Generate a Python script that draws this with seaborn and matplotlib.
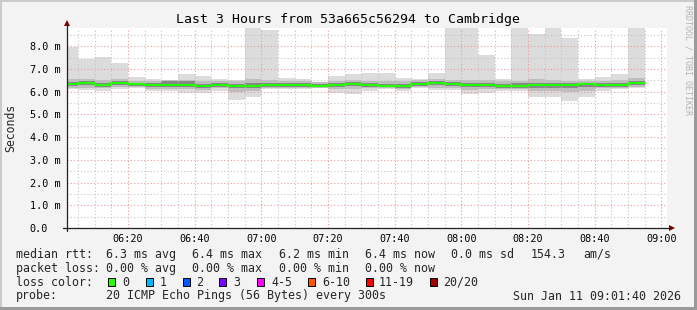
import numpy as np
import pandas as pd
import matplotlib
matplotlib.use("Agg")
import matplotlib.pyplot as plt
import seaborn as sns
from matplotlib.lines import Line2D
from matplotlib.patches import Polygon, Rectangle

# ---------------- data (milliseconds) ----------------
bar_start = pd.date_range("2026-01-11 06:00", "2026-01-11 08:50", freq="5min")
median_ms = [6.33, 6.39, 6.29, 6.39, 6.32, 6.28, 6.28, 6.30, 6.24, 6.28, 6.24, 6.24,
             6.28, 6.29, 6.29, 6.27, 6.30, 6.33, 6.30, 6.26, 6.24, 6.34, 6.39, 6.33,
             6.30, 6.30, 6.26, 6.24, 6.29, 6.29, 6.29, 6.32, 6.29, 6.29, 6.39]
min_ms = [6.12, 6.07, 6.04, 6.12, 6.14, 6.04, 6.04, 5.92, 5.92, 6.04, 5.64, 5.75,
          6.10, 6.10, 6.10, 6.14, 5.95, 5.89, 6.04, 6.10, 6.04, 6.14, 6.07, 6.07,
          5.89, 5.95, 6.04, 6.04, 5.78, 5.78, 5.60, 5.75, 6.04, 6.10, 6.14]
max_ms = [7.95, 7.44, 7.53, 7.27, 6.65, 6.56, 6.52, 6.77, 6.68, 6.55, 6.52, 9.50,
          8.72, 6.58, 6.54, 6.43, 6.68, 6.76, 6.83, 6.83, 6.58, 6.55, 6.83, 9.50,
          9.50, 7.61, 6.55, 9.50, 8.54, 9.50, 8.37, 6.54, 6.63, 6.77, 9.50]
p90_ms = [6.55, 6.55, 6.52, 6.55, 6.48, 6.45, 6.50, 6.50, 6.48, 6.45, 6.45, 6.55,
          6.52, 6.45, 6.45, 6.42, 6.45, 6.50, 6.48, 6.45, 6.45, 6.50, 6.55, 6.52,
          6.52, 6.50, 6.45, 6.48, 6.55, 6.52, 6.48, 6.48, 6.48, 6.52, 6.60]
p10_ms = [6.18, 6.18, 6.15, 6.20, 6.20, 6.12, 6.12, 6.10, 6.08, 6.14, 6.00, 6.05,
          6.15, 6.15, 6.16, 6.18, 6.12, 6.10, 6.14, 6.14, 6.12, 6.20, 6.18, 6.16,
          6.08, 6.10, 6.12, 6.10, 6.05, 6.05, 6.00, 6.05, 6.14, 6.16, 6.20]
p75_ms = [6.43, 6.47, 6.38, 6.47, 6.38, 6.36, 6.48, 6.48, 6.35, 6.36, 6.33, 6.36,
          6.37, 6.37, 6.36, 6.34, 6.38, 6.42, 6.38, 6.34, 6.33, 6.42, 6.47, 6.42,
          6.40, 6.40, 6.35, 6.36, 6.40, 6.40, 6.38, 6.38, 6.37, 6.38, 6.46]
p25_ms = [6.24, 6.28, 6.21, 6.30, 6.25, 6.20, 6.21, 6.21, 6.16, 6.20, 6.15, 6.15,
          6.20, 6.21, 6.20, 6.20, 6.21, 6.24, 6.22, 6.19, 6.16, 6.24, 6.30, 6.24,
          6.21, 6.22, 6.18, 6.16, 6.18, 6.18, 6.17, 6.22, 6.21, 6.22, 6.31]

xtick_labels = ["06:20", "06:40", "07:00", "07:20", "07:40", "08:00", "08:20", "08:40", "09:00"]
ytick_labels = ["0.0", "1.0 m", "2.0 m", "3.0 m", "4.0 m", "5.0 m", "6.0 m", "7.0 m", "8.0 m"]
loss_labels = ["0", "1", "2", "3", "4-5", "6-10", "11-19", "20/20"]
loss_colors = ["#26ff00", "#00b8ff", "#0059ff", "#7e00ff", "#ff00ff", "#ff5500", "#ff0000", "#a10000"]

title = "Last 3 Hours from 53a665c56294 to Cambridge"
row1 = [("median rtt:", 16), ("6.3 ms avg", 106.5), ("6.4 ms max", 192.5), ("6.2 ms min", 279),
        ("6.4 ms now", 365), ("0.0 ms sd", 451), ("154.3", 531), ("am/s", 583)]
row2 = [("packet loss:", 16), ("0.00 % avg", 106.5), ("0.00 % max", 192.5), ("0.00 % min", 279),
        ("0.00 % now", 365)]
probe_text = "20 ICMP Echo Pings (56 Bytes) every 300s"
date_text = "Sun Jan 11 09:01:40 2026"

# ---------------- style ----------------
sns.set_theme(style="white")
plt.rcParams["font.family"] = ["DejaVu Sans Mono"]

W, H = 697, 310
fig = plt.figure(figsize=(W / 100, H / 100), dpi=100)
fig.patch.set_facecolor("#f3f3f3")

def fx(x):
    return x / W

def fy(y):
    return 1 - y / H

# plot area: x 67..667, y 28..228
ax = fig.add_axes([fx(67), fy(228), 600 / W, 200 / H])
ax.set_facecolor("white")

t0 = pd.Timestamp("2026-01-11 06:00")
minutes = np.array([(t - t0).total_seconds() / 60 for t in bar_start])
width = 5.0

ax.bar(minutes, np.array(max_ms) - np.array(min_ms), bottom=min_ms, width=width,
       align="edge", color="#dcdcdc", linewidth=0, zorder=1)
ax.bar(minutes, np.array(p90_ms) - np.array(p10_ms), bottom=p10_ms, width=width,
       align="edge", color="#bdbdbd", linewidth=0, zorder=1.1)
ax.bar(minutes, np.array(p75_ms) - np.array(p25_ms), bottom=p25_ms, width=width,
       align="edge", color="#878787", linewidth=0, zorder=1.2)

step_x = list(minutes) + [minutes[-1] + width]
step_y = list(median_ms) + [median_ms[-1]]
df = pd.DataFrame({"minute": step_x, "median": step_y})
sns.lineplot(data=df, x="minute", y="median", ax=ax, estimator=None, sort=False,
             drawstyle="steps-post", color="#22ff00", linewidth=1.5, zorder=4)

ax.set_xlim(1 + 2 / 3, 181 + 2 / 3)
ax.set_ylim(0, 8.8)

major_x = [20, 40, 60, 80, 100, 120, 140, 160, 180]
ax.set_xticks(major_x)
ax.set_xticklabels(xtick_labels)
ax.set_xticks(np.arange(5, 181, 5), minor=True)
ax.set_yticks(range(9))
ax.set_yticklabels(ytick_labels)
ax.set_yticks(np.arange(0.5, 8.8, 1.0), minor=True)

ax.set_axisbelow(False)
ax.grid(False)
for v in np.arange(5, 181, 5):
    if v % 20:
        ax.axvline(v, color="#c4c4c4", lw=0.8, dashes=(1, 2), zorder=2)
for v in np.arange(0.5, 8.8, 1.0):
    ax.axhline(v, color="#c4c4c4", lw=0.8, dashes=(1, 2), zorder=2)
for v in major_x:
    ax.axvline(v, color="#f09898", lw=0.8, dashes=(1, 2), zorder=2.1)
for v in range(1, 9):
    ax.axhline(v, color="#f09898", lw=0.8, dashes=(1, 2), zorder=2.1)

for s in ax.spines.values():
    s.set_visible(False)
ax.tick_params(axis="both", which="both", length=0)
ax.tick_params(axis="x", labelsize=7.3, pad=4.5, colors="black")
ax.tick_params(axis="y", labelsize=7.3, pad=27, colors="black")
for lab in ax.get_yticklabels():
    lab.set_horizontalalignment("left")
ax.set_xlabel("")
ax.set_ylabel("")

# axes lines and arrows
fig.add_artist(Line2D([fx(67), fx(67)], [fy(231), fy(24)], color="#202020", lw=0.9))
fig.add_artist(Line2D([fx(63), fx(670)], [fy(228), fy(228)], color="#202020", lw=0.9))
fig.add_artist(Polygon([[fx(64), fy(26)], [fx(70), fy(26)], [fx(67), fy(20)]],
                       closed=True, color="#7f0000", lw=0))
fig.add_artist(Polygon([[fx(669), fy(225)], [fx(669), fy(231)], [fx(675), fy(228)]],
                       closed=True, color="#7f0000", lw=0))

# texts
fig.text(fx(348), fy(19.5), title, ha="center", va="center", fontsize=9.5, color="black")
fig.text(fx(11), fy(128), "Seconds", rotation=90, ha="center", va="center", fontsize=8.3)
fig.text(fx(688), fy(5), "RRDTOOL / TOBI OETIKER", rotation=270, ha="center", va="top",
         fontsize=6.0, color="#b4b4b4")

LFS = 8.35
for txt, x in row1:
    fig.text(fx(x), fy(254.3), txt, ha="left", va="center", fontsize=LFS)
for txt, x in row2:
    fig.text(fx(x), fy(268.3), txt, ha="left", va="center", fontsize=LFS)
fig.text(fx(16), fy(282), "loss color:", ha="left", va="center", fontsize=LFS)
box_x = [108, 146, 183, 219, 257, 308, 366, 430]
txt_x = [122, 159.5, 196.5, 233, 271, 322, 379, 443]
for lab, col, bx, tx in zip(loss_labels, loss_colors, box_x, txt_x):
    fig.add_artist(Rectangle((fx(bx), fy(286)), 7 / W, 8 / H, facecolor=col,
                             edgecolor="black", lw=0.7))
    fig.text(fx(tx), fy(282), lab, ha="left", va="center", fontsize=LFS)
fig.text(fx(16), fy(296), "probe:", ha="left", va="center", fontsize=LFS)
fig.text(fx(106.5), fy(296), probe_text, ha="left", va="center", fontsize=LFS)
fig.text(fx(681), fy(296), date_text, ha="right", va="center", fontsize=LFS)

# outer frame
fig.add_artist(Rectangle((0, fy(2)), 1, 2 / H, facecolor="#cbcbcb", lw=0))
fig.add_artist(Rectangle((0, 0), 2 / W, 1, facecolor="#cbcbcb", lw=0))
fig.add_artist(Rectangle((fx(694), 0), 3 / W, 1, facecolor="#9a9a9a", lw=0))
fig.add_artist(Rectangle((0, 0), 1, 3 / H, facecolor="#9a9a9a", lw=0))

fig.savefig("out.png", dpi=100, facecolor=fig.get_facecolor())
